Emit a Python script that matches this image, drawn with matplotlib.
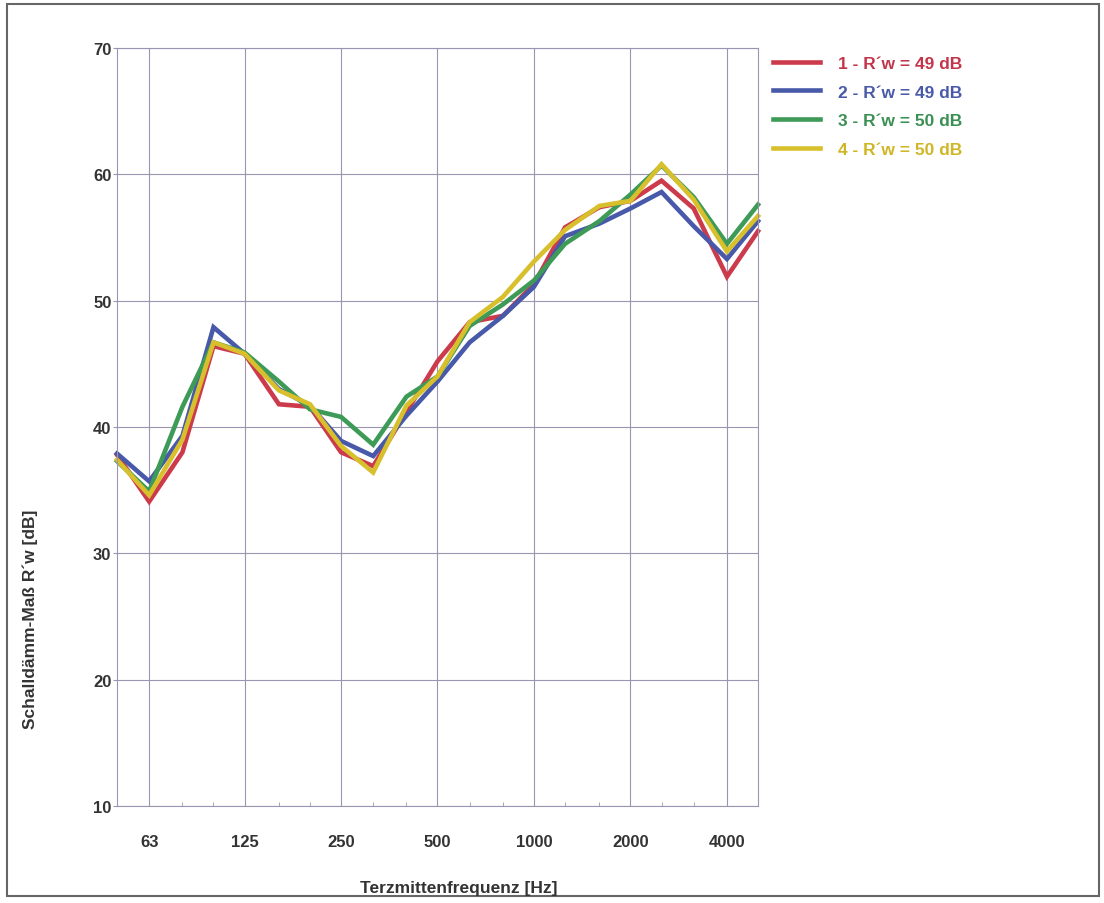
import numpy as np
import matplotlib.pyplot as plt
from matplotlib.patches import Rectangle
from matplotlib.ticker import FixedLocator, NullFormatter

# Terzbänder 50 Hz ... 5000 Hz
freq = [50, 63, 80, 100, 125, 160, 200, 250, 315, 400, 500,
        630, 800, 1000, 1250, 1600, 2000, 2500, 3150, 4000, 5000]

# Schalldämm-Maß R'w [dB]
r1 = [37.8, 34.1, 38.0, 46.4, 45.8, 41.8, 41.6, 38.0, 36.9, 41.2, 45.2,
      48.3, 48.8, 51.3, 55.8, 57.4, 57.9, 59.5, 57.3, 51.9, 55.5]
r2 = [37.9, 35.7, 39.3, 47.9, 45.8, 43.0, 41.7, 38.9, 37.7, 40.9, 43.6,
      46.7, 48.8, 51.1, 55.1, 56.1, 57.3, 58.6, 55.9, 53.3, 56.3]
r3 = [37.3, 34.9, 41.6, 46.7, 45.9, 43.6, 41.4, 40.8, 38.6, 42.4, 44.0,
      48.0, 49.7, 51.6, 54.5, 56.3, 58.4, 60.7, 58.2, 54.5, 57.6]
r4 = [37.4, 34.6, 39.0, 46.7, 45.8, 42.9, 41.8, 38.5, 36.4, 41.7, 44.0,
      48.3, 50.3, 53.1, 55.6, 57.5, 57.9, 60.8, 58.0, 53.9, 56.7]

namen = ["1 - R´w = 49 dB", "2 - R´w = 49 dB", "3 - R´w = 50 dB", "4 - R´w = 50 dB"]
farben = ["#cc3b4b", "#4759a8", "#3d9a57", "#d8c02c"]
text_farben = ["#c2354a", "#4a5aa8", "#3a9052", "#d0b524"]

xticks = [63, 125, 250, 500, 1000, 2000, 4000]
yticks = [10, 20, 30, 40, 50, 60, 70]

gitter = "#9d94b4"

plt.rcParams['font.family'] = ['Liberation Sans', 'DejaVu Sans']

fig = plt.figure(figsize=(11.04, 9.04), dpi=100)
ax = fig.add_axes([117/1104, 1-807/904, (758-117)/1104, (807-49)/904])

for reihe, farbe, name in zip([r1, r2, r3, r4], farben, namen):
    ax.plot(freq, reihe, color=farbe, lw=3.3, label=name, clip_on=False,
            solid_joinstyle='miter')

ax.set_xscale('log')
ax.set_xlim(50, 5000)
ax.set_ylim(10, 70)

ax.xaxis.set_major_locator(FixedLocator(xticks))
ax.set_xticklabels([str(t) for t in xticks])
ax.xaxis.set_minor_locator(FixedLocator([f for f in freq if f not in xticks]))
ax.xaxis.set_minor_formatter(NullFormatter())
ax.set_yticks(yticks)

ax.tick_params(axis='x', which='major', length=0, pad=20, labelsize=12)
ax.tick_params(axis='x', which='minor', direction='in', length=3, color=gitter)
ax.tick_params(axis='y', which='major', length=3, color=gitter, pad=1, labelsize=12)
for lab in ax.get_xticklabels() + ax.get_yticklabels():
    lab.set_fontweight('bold')
    lab.set_color('#333333')

ax.grid(True, which='major', color=gitter, lw=0.8)
ax.set_axisbelow(True)
for sp in ax.spines.values():
    sp.set_color(gitter)
    sp.set_linewidth(0.8)

leg = ax.legend(loc='upper left', bbox_to_anchor=(0.999, 1.0105), frameon=False,
                handlelength=2.7, handletextpad=1.03, labelspacing=0.78,
                prop={'weight': 'bold', 'size': 12.5})
for txt, c in zip(leg.get_texts(), text_farben):
    txt.set_color(c)

fig.text(30/1104, 1-619/904, "Schalldämm-Maß R´w [dB]", rotation=90,
         ha='center', va='center', fontsize=12.5, fontweight='bold', color='#333333')
fig.text(459/1104, 1-889/904, "Terzmittenfrequenz [Hz]", ha='center', va='center',
         fontsize=12.5, fontweight='bold', color='#333333')

# Rahmen um das Blatt
fig.patches.append(Rectangle((7/1104, 1-897/904), 1092/1104, 892/904,
                             transform=fig.transFigure, fill=False,
                             edgecolor='#666666', lw=1.5))

fig.savefig("out.png", dpi=100)
